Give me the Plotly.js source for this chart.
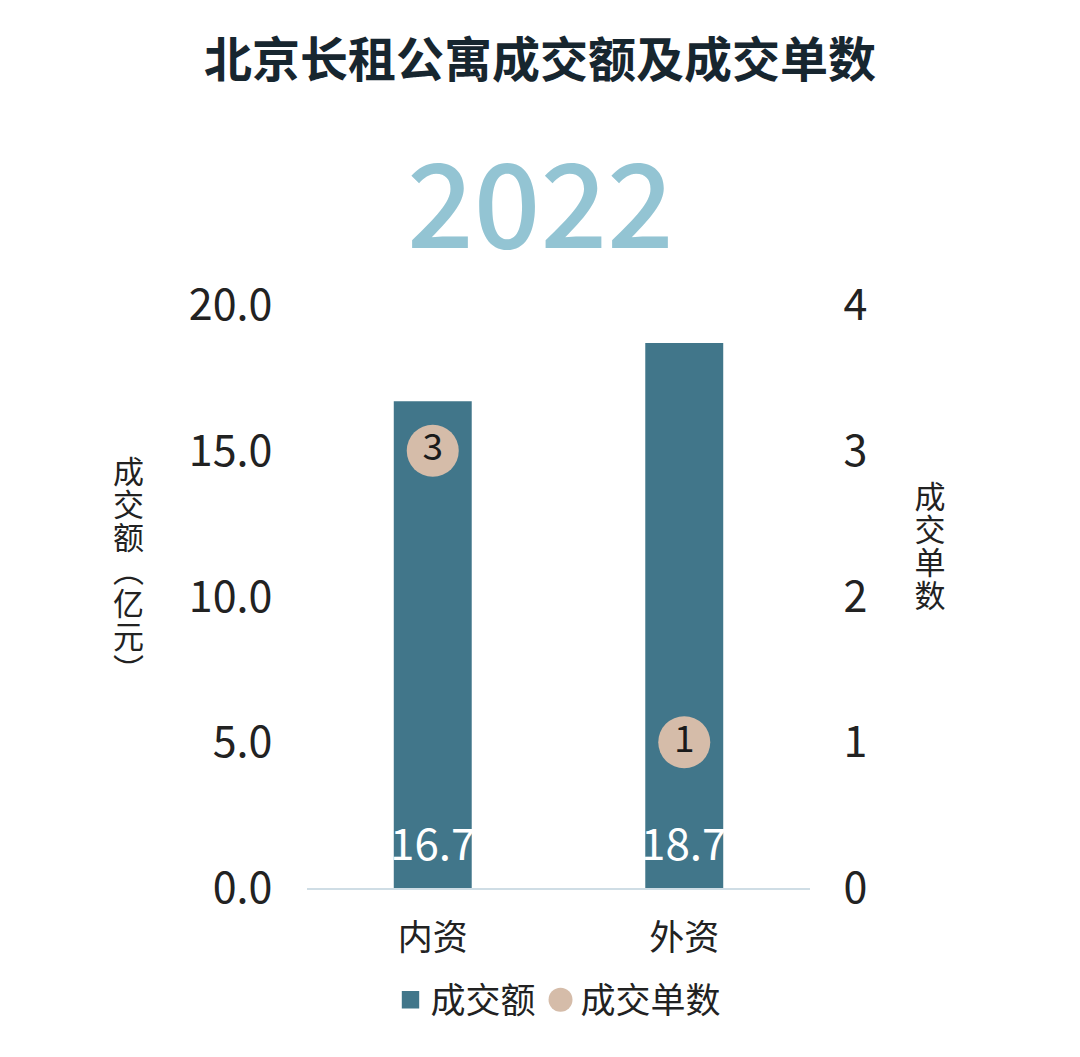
<!DOCTYPE html>
<html>
<head>
<meta charset="utf-8">
<script src="https://cdn.plot.ly/plotly-3.0.1.min.js"></script>
<style>
html,body{margin:0;padding:0;background:#fff;}
#chart{width:1080px;height:1057px;}
</style>
</head>
<body>
<div id="chart"></div>
<script>
const categories = ['内资', '外资'];
const amountValues = [16.7, 18.7];          // 成交额（亿元）
const countValues = [3, 1];                 // 成交单数
const amountName = '成交额';
const countName = '成交单数';
const titleText = '北京长租公寓成交额及成交单数';
const yearText = '2022';
const leftAxisTitle = '成交额（亿元）';
const rightAxisTitle = '成交单数';
const leftTicks = [0, 5, 10, 15, 20];
const rightTicks = [0, 1, 2, 3, 4];

const FONT = '"Noto Sans CJK SC", "Noto Sans", sans-serif';
const BAR = '#41768a';
const DOT = '#d5bca9';

// plot-area geometry helpers (pixels -> paper fractions)
const PL = 307, PR = 810, PT = 305, PB = 888;
const px = v => (v - PL) / (PR - PL);
const py = v => (PB - v) / (PB - PT);

const bars = {
  type: 'bar',
  name: amountName,
  x: categories,
  y: amountValues,
  width: 0.31,
  marker: {color: BAR},
  hoverinfo: 'skip',
  yaxis: 'y'
};

const dots = {
  type: 'scatter',
  mode: 'markers+text',
  name: countName,
  x: categories,
  y: countValues,
  text: countValues.map(String),
  textposition: 'middle center',
  textfont: {family: FONT, size: 37, color: '#1a1a1a'},
  marker: {color: DOT, size: 52},
  cliponaxis: false,
  hoverinfo: 'skip',
  yaxis: 'y2'
};

const barLabels = categories.map((c, i) => ({
  x: c, y: 0, xref: 'x', yref: 'y',
  text: amountValues[i].toFixed(1),
  showarrow: false,
  yanchor: 'bottom',
  yshift: 13,
  font: {family: FONT, size: 44, color: '#ffffff'}
}));

const layout = {
  width: 1080,
  height: 1057,
  paper_bgcolor: '#ffffff',
  plot_bgcolor: '#ffffff',
  margin: {l: PL, r: 1080 - PR, t: PT, b: 1057 - PB},
  title: {
    text: titleText,
    x: 0.5, xanchor: 'center',
    y: 1 - 60 / 1057, yanchor: 'middle',
    font: {family: FONT, size: 48, color: '#17262f', weight: 700}
  },
  showlegend: true,
  legend: {
    orientation: 'h',
    x: 0.5, xanchor: 'center',
    y: py(1000), yanchor: 'middle',
    font: {family: FONT, size: 35, color: '#222'},
    itemsizing: 'trace',
    traceorder: 'normal'
  },
  xaxis: {
    type: 'category',
    range: [-0.5, 1.5],
    showline: true,
    linecolor: '#cfdde5',
    linewidth: 2,
    showgrid: false,
    zeroline: false,
    ticks: 'outside',
    ticklen: 18,
    tickcolor: 'rgba(0,0,0,0)',
    tickfont: {family: FONT, size: 35, color: '#222'}
  },
  yaxis: {
    range: [0, 20],
    tickvals: leftTicks,
    tickformat: '.1f',
    showgrid: false,
    zeroline: false,
    showline: false,
    ticks: 'outside',
    ticklen: 25,
    tickcolor: 'rgba(0,0,0,0)',
    tickfont: {family: FONT, size: 43, color: '#222'}
  },
  yaxis2: {
    range: [0, 4],
    overlaying: 'y',
    side: 'right',
    tickvals: rightTicks,
    showgrid: false,
    zeroline: false,
    showline: false,
    ticks: 'outside',
    ticklen: 24,
    tickcolor: 'rgba(0,0,0,0)',
    tickfont: {family: FONT, size: 43, color: '#222'}
  },
  annotations: [
    {
      text: yearText,
      xref: 'paper', yref: 'paper',
      x: px(540), xanchor: 'center',
      y: py(197), yanchor: 'middle',
      showarrow: false,
      font: {family: FONT, size: 117, color: '#93c4d3', weight: 500}
    },
    {
      text: leftAxisTitle,
      xref: 'paper', yref: 'paper',
      x: px(128), xanchor: 'center',
      y: py(557), yanchor: 'middle',
      showarrow: false,
      font: {family: FONT, size: 31, color: '#222'},
      name: 'vtitle'
    },
    {
      text: rightAxisTitle,
      xref: 'paper', yref: 'paper',
      x: px(930), xanchor: 'center',
      y: py(533), yanchor: 'middle',
      showarrow: false,
      font: {family: FONT, size: 31, color: '#222'},
      name: 'vtitle'
    }
  ].concat(barLabels)
};

Plotly.newPlot('chart', [bars, dots], layout, {displayModeBar: false, staticPlot: true}).then(gd => {
  // vertical (upright) axis titles, as in the reference
  document.querySelectorAll('text.annotation-text').forEach(t => {
    const s = t.getAttribute('data-unformatted');
    if (s === leftAxisTitle || s === rightAxisTitle) {
      t.style.writingMode = 'vertical-rl';
      t.style.letterSpacing = '2px';
    }
  });
  // enlarge legend symbols around their own centres
  document.querySelectorAll('.legend .legendpoints path').forEach(p => {
    const tr = p.getAttribute('transform') || '';
    const isBar = p.classList.contains('legendbar') || /M6,6H-6V-6H6Z/.test(p.getAttribute('d') || '');
    p.setAttribute('transform', tr + (isBar ? ' scale(1.45)' : ' scale(1.5)'));
  });
});
</script>
</body>
</html>
